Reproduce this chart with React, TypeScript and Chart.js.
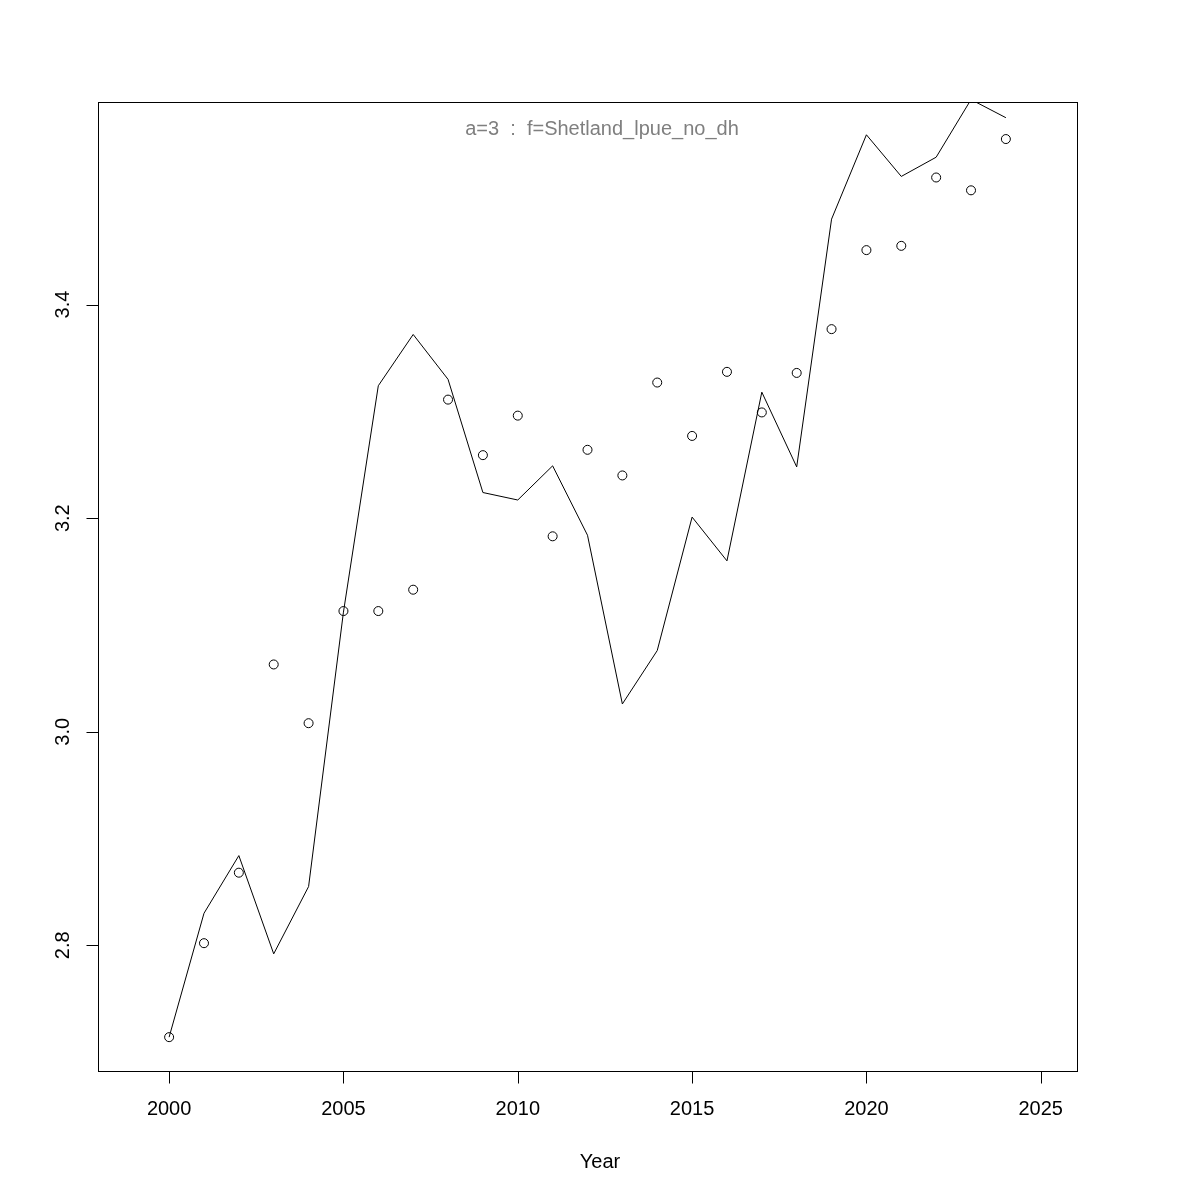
import React, { useEffect, useRef } from "react";
import { Chart, registerables } from "chart.js";

Chart.register(...registerables);

const years = [2000, 2001, 2002, 2003, 2004, 2005, 2006, 2007, 2008, 2009, 2010, 2011, 2012, 2013, 2014, 2015, 2016, 2017, 2018, 2019, 2020, 2021, 2022, 2023, 2024];
const observed = [2.714, 2.802, 2.868, 3.063, 3.008, 3.113, 3.113, 3.133, 3.311, 3.259, 3.296, 3.183, 3.264, 3.240, 3.327, 3.277, 3.337, 3.299, 3.336, 3.377, 3.451, 3.455, 3.519, 3.507, 3.555];
const fitted = [2.714, 2.830, 2.884, 2.792, 2.855, 3.112, 3.324, 3.372, 3.330, 3.224, 3.217, 3.249, 3.184, 3.026, 3.076, 3.201, 3.160, 3.318, 3.248, 3.480, 3.559, 3.520, 3.538, 3.592, 3.575];
const xTicks = [2000, 2005, 2010, 2015, 2020, 2025];
const yTicks = [2.8, 3.0, 3.2, 3.4];
const yTickLabels = ["2.8", "3.0", "3.2", "3.4"];
const titleText = "a=3  :  f=Shetland_lpue_no_dh";
const xLabel = "Year";

const FONT = '20px "Liberation Sans", Arial, Helvetica, sans-serif';

const rAxesPlugin = {
  id: "rAxes",
  afterDraw(chart: any) {
    const ctx = chart.ctx;
    const area = chart.chartArea;
    const xs = chart.scales.x;
    const ys = chart.scales.y;
    ctx.save();
    ctx.strokeStyle = "#000";
    ctx.lineWidth = 1;
    // box
    ctx.strokeRect(Math.round(area.left) + 0.5, Math.round(area.top) + 0.5, Math.round(area.right - area.left), Math.round(area.bottom - area.top));
    // x ticks
    const by = Math.round(area.bottom) + 0.5;
    ctx.beginPath();
    xTicks.forEach((t) => {
      const px = Math.round(xs.getPixelForValue(t)) + 0.5;
      ctx.moveTo(px, by);
      ctx.lineTo(px, by + 12);
    });
    // y ticks
    const lx = Math.round(area.left) + 0.5;
    yTicks.forEach((t) => {
      const py = Math.round(ys.getPixelForValue(t)) + 0.5;
      ctx.moveTo(lx, py);
      ctx.lineTo(lx - 12, py);
    });
    ctx.stroke();
    // labels
    ctx.fillStyle = "#000";
    ctx.font = FONT;
    ctx.textAlign = "center";
    ctx.textBaseline = "middle";
    xTicks.forEach((t) => {
      ctx.fillText(String(t), xs.getPixelForValue(t), 1109);
    });
    yTicks.forEach((t, i) => {
      ctx.save();
      ctx.translate(63.5, ys.getPixelForValue(t));
      ctx.rotate(-Math.PI / 2);
      ctx.fillText(yTickLabels[i], 0, 0);
      ctx.restore();
    });
    ctx.fillText(xLabel, 600, 1162);
    ctx.fillStyle = "#7f7f7f";
    ctx.fillText(titleText, 602, 129.5);
    ctx.restore();
  },
};

export default function App() {
  const ref = useRef<HTMLCanvasElement>(null);
  useEffect(() => {
    if (!ref.current) return;
    const chart = new Chart(ref.current, {
      type: "line",
      data: {
        datasets: [
          {
            label: "fitted",
            data: years.map((y, i) => ({ x: y, y: fitted[i] })),
            borderColor: "#000",
            borderWidth: 1,
            pointRadius: 0,
            tension: 0,
            fill: false,
          },
          {
            label: "observed",
            data: years.map((y, i) => ({ x: y, y: observed[i] })),
            showLine: false,
            pointStyle: "circle",
            pointRadius: 4.5,
            pointBorderColor: "#000",
            pointBackgroundColor: "rgba(0,0,0,0)",
            pointBorderWidth: 1,
            borderColor: "#000",
            backgroundColor: "rgba(0,0,0,0)",
          },
        ],
      },
      options: {
        animation: false,
        responsive: false,
        devicePixelRatio: 1,
        layout: { padding: { left: 98, right: 123, top: 102, bottom: 129 } },
        plugins: { legend: { display: false }, tooltip: { enabled: false } },
        events: [],
        scales: {
          x: { type: "linear", min: 1997.96, max: 2026.04, display: false },
          y: { type: "linear", min: 2.6823, max: 3.5897, display: false },
        },
      },
      plugins: [rAxesPlugin],
    });
    return () => chart.destroy();
  }, []);
  return (
    <div style={{ position: "absolute", left: 0, top: 0, width: 1200, height: 1200, background: "#fff" }}>
      <canvas ref={ref} width={1200} height={1200} style={{ width: 1200, height: 1200 }} />
    </div>
  );
}
